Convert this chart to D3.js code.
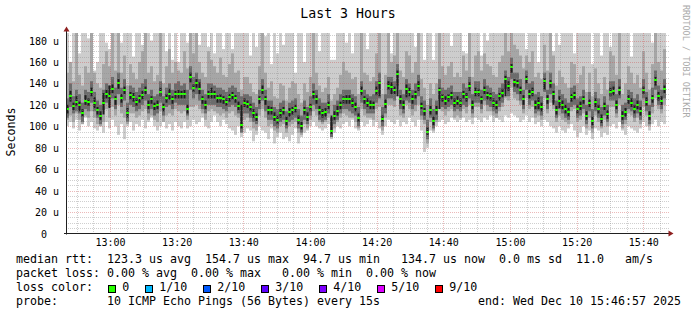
<!DOCTYPE html>
<html><head><meta charset="utf-8">
<script src="https://cdn.jsdelivr.net/npm/d3@7"></script>
<style>
html,body{margin:0;padding:0;background:#fff;}
svg{display:block;}
text{font-family:"DejaVu Sans Mono",monospace;}
</style></head><body>
<svg id="c" width="697" height="315"></svg>
<script>
// ---------- data (microseconds), one value per column, oldest first ----------
const median = [
116,128,119,123,120,112,124,123,132,122,
115,110,122,130,128,135,125,140,126,134,
112,129,127,123,126,129,134,120,125,119,
120,132,118,126,130,125,130,130,130,130,
116,146,136,140,135,125,120,130,130,130,
126,126,125,123,127,129,126,119,101,122,
121,118,112,109,125,134,125,115,115,109,
106,112,115,105,113,115,117,106,100,115,
109,118,130,125,115,112,113,120,96,110,
114,120,125,125,125,122,118,108,133,125,
122,120,120,133,140,107,121,138,137,134,
149,125,120,135,132,125,130,138,119,114,
95,115,105,115,134,127,124,127,129,122,
124,122,130,127,138,120,132,132,125,134,
129,128,122,120,128,131,144,138,155,141,
140,134,125,144,130,132,120,122,118,142,
125,140,130,115,124,120,116,113,127,129,
116,119,125,110,122,105,123,116,107,119,
111,132,133,120,134,110,113,125,122,116,
120,114,134,123,110,126,143,128,124,135];
// outer smoke (lowest / highest ping)
const smokeMax = [
190,160,190,190,168,190,190,182,190,152,
160,190,190,178,172,190,190,190,178,190,
190,190,165,190,190,176,190,190,180,190,
190,190,190,170,190,162,190,160,190,190,
178,190,190,190,176,190,190,174,190,168,
190,190,172,190,190,172,190,190,190,190,
190,166,190,174,190,190,184,190,158,190,
168,190,176,190,190,190,150,190,190,160,
190,190,190,190,170,190,190,190,162,162,
190,190,190,178,190,168,190,190,190,190,
172,190,190,190,190,190,190,190,168,190,
190,190,190,190,190,190,174,190,190,162,
190,190,162,190,190,190,190,190,175,190,
190,190,170,168,190,190,190,190,166,190,
180,190,190,190,190,190,190,190,190,190,
190,190,190,172,190,190,190,160,190,190,
190,190,170,190,176,190,190,190,190,168,
190,190,190,190,190,158,190,190,166,190,
190,174,190,190,190,190,190,190,165,190,
190,190,190,190,190,178,190,190,190,190];
const smokeMin = [
100,104,98,106,96,102,108,100,104,98,
96,100,94,104,98,106,100,92,102,88,
100,104,96,102,100,106,98,104,108,100,
96,100,106,98,102,96,104,100,98,104,
98,100,106,102,104,108,100,98,104,110,
104,100,106,102,98,96,92,100,90,94,
98,96,86,92,100,96,94,88,98,84,
90,94,88,90,86,92,98,84,90,94,
96,100,104,100,98,96,98,102,88,94,
100,98,102,104,100,106,98,96,104,100,
102,106,100,104,98,92,100,106,104,102,
106,100,104,102,108,104,100,106,96,76,
80,96,94,100,104,106,102,104,108,106,
104,106,108,104,106,102,108,106,104,108,
106,110,104,108,106,104,110,108,112,110,
108,104,106,110,104,108,102,104,100,106,
104,100,98,94,100,96,94,98,102,96,
90,94,100,92,96,88,98,96,90,94,
92,100,102,98,104,96,92,100,98,96,
94,98,104,100,96,102,106,100,104,102];
// second smoke band
const band2Hi = [
150,160,142,190,148,138,156,150,190,150,
140,136,158,170,156,190,152,190,150,166,
138,158,150,144,160,170,190,150,156,142,
148,190,140,156,172,150,160,152,150,170,
154,190,168,190,160,150,146,170,162,156,
150,164,148,146,158,168,150,152,134,146,
146,140,132,130,156,190,150,136,142,128,
126,140,138,124,136,142,140,130,122,140,
132,146,190,150,138,132,136,146,124,130,
136,148,160,152,150,144,146,130,190,150,
148,142,146,168,190,130,148,190,160,166,
190,152,146,170,166,150,160,190,144,136,
120,140,130,140,190,156,148,156,160,146,
150,146,166,152,190,146,166,170,152,168,
158,156,148,146,160,166,190,170,190,176,
172,166,154,166,160,170,146,150,144,176,
152,190,166,138,152,146,140,136,160,158,
140,148,156,132,150,128,154,140,130,146,
134,170,166,148,190,130,140,156,150,140,
148,136,170,150,134,158,190,160,152,172];
const band2Lo = [
106,110,104,112,106,102,110,108,114,108,
102,100,104,116,108,118,110,120,112,108,
102,112,112,108,110,114,116,106,110,106,
104,114,104,110,112,110,116,114,112,114,
106,118,118,120,116,112,106,114,116,114,
112,110,112,108,112,114,110,108,96,106,
108,104,98,96,110,116,108,100,102,96,
94,100,102,94,100,102,104,94,92,102,
98,106,114,110,104,102,104,108,90,98,
104,108,112,110,108,108,104,98,116,110,
108,108,106,116,118,96,108,120,120,118,
128,110,108,120,116,110,114,120,106,102,
84,104,96,104,116,114,110,114,116,108,
110,108,116,112,120,108,118,118,112,120,
114,114,110,108,114,118,126,124,136,126,
124,120,112,126,116,118,108,110,106,126,
112,122,116,104,110,106,104,102,114,116,
104,106,112,98,108,94,110,104,98,106,
100,118,118,108,120,98,102,112,110,104,
108,102,118,110,100,112,126,116,112,120];
// third smoke band
const band3Hi = [
126,140,128,134,130,122,134,132,142,132,
124,120,134,140,138,146,136,150,136,144,
122,138,136,132,136,140,144,130,134,128,
130,142,128,136,140,134,140,142,138,140,
134,156,146,150,144,134,130,140,140,138,
136,136,134,132,136,138,136,132,128,130,
130,128,122,118,134,144,134,124,124,118,
116,122,124,114,122,124,126,116,110,124,
118,128,140,134,126,122,122,130,108,120,
124,130,134,134,134,130,128,118,142,134,
130,128,130,142,150,118,130,146,146,142,
158,134,130,144,140,134,140,148,128,124,
106,126,116,124,144,136,134,136,138,132,
132,132,140,136,146,130,142,142,134,144,
138,136,132,130,136,140,152,146,164,150,
150,144,134,152,140,142,130,132,128,150,
134,150,140,124,134,130,126,122,136,138,
126,128,134,120,132,116,132,126,118,128,
120,142,142,130,144,120,122,134,132,126,
130,124,144,132,120,136,152,138,134,144];
const band3Lo = [
108,118,112,114,112,104,116,114,122,114,
108,102,114,122,118,126,116,130,118,124,
104,120,118,114,116,120,124,112,116,110,
112,122,110,118,120,116,122,120,120,120,
110,134,126,130,124,116,112,120,120,120,
118,118,116,114,118,120,118,112,94,112,
112,108,104,102,116,124,114,106,106,100,
98,104,106,98,104,106,108,98,94,106,
102,110,120,116,106,104,106,112,90,102,
106,112,116,116,114,112,110,100,122,116,
112,112,112,122,126,100,112,126,126,124,
138,116,112,124,122,116,120,128,110,106,
88,108,98,106,124,118,116,118,120,114,
116,114,120,118,126,112,122,122,116,124,
120,118,114,112,118,122,134,128,144,132,
130,124,116,134,120,124,112,114,110,132,
116,130,122,108,116,112,108,106,118,120,
108,110,116,102,114,98,114,108,100,110,
104,124,124,112,126,102,106,116,114,108,
112,106,126,114,102,118,134,120,116,126];
// innermost pair of pings around the median
const coreHi = [
120,133,122,128,123,116,129,126,136,127,
118,114,131,134,138,139,128,144,130,137,
117,132,131,126,129,133,137,124,128,122,
124,136,121,130,135,128,133,134,133,134,
120,150,139,144,141,128,124,133,136,133,
129,130,128,126,130,132,129,123,120,126,
124,121,116,112,128,138,128,119,118,113,
110,116,118,109,117,118,120,110,104,118,
113,121,133,129,119,116,117,123,110,114,
119,123,128,129,129,126,122,112,137,128,
126,124,123,137,142,110,125,142,141,137,
152,129,124,139,136,129,133,142,122,117,
99,119,109,119,136,130,128,130,132,126,
128,126,133,131,141,124,136,135,128,137,
132,131,126,124,131,135,147,142,158,144,
143,137,129,147,134,136,124,127,122,145,
129,143,133,119,128,124,120,117,130,132,
120,123,128,114,125,109,126,120,111,122,
115,136,137,124,137,114,117,129,126,120,
124,118,137,127,114,129,146,132,128,138];
const coreLo = [
112,123,115,119,114,109,120,119,128,117,
111,106,111,126,117,131,120,135,122,130,
108,125,123,119,122,125,130,116,121,115,
116,128,114,122,125,121,126,126,126,126,
112,141,132,136,130,121,116,126,126,126,
122,122,121,119,123,125,122,115,98,118,
117,114,108,105,121,130,120,111,111,105,
102,108,111,101,109,111,113,102,97,111,
105,114,126,121,111,108,109,116,93,106,
110,116,121,121,121,118,114,104,129,121,
118,116,116,129,128,104,117,134,130,130,
128,121,116,127,128,121,126,133,116,110,
92,111,101,111,116,123,120,123,125,118,
120,118,126,123,133,116,128,128,121,130,
125,124,118,116,124,127,128,133,150,137,
136,130,120,140,126,128,116,116,114,134,
121,136,120,111,117,116,112,109,123,125,
112,115,121,106,118,101,118,112,103,115,
107,128,129,116,129,106,109,121,118,112,
116,110,130,119,106,122,138,124,120,131];

const xTickLabels = ["13:00","13:20","13:40","14:00","14:20","14:40","15:00","15:20","15:40"];
const yTickValues = [0,20,40,60,80,100,120,140,160,180];
const yTickLabels = ["0","20 u","40 u","60 u","80 u","100 u","120 u","140 u","160 u","180 u"];
const lossLabels = ["0","1/10","2/10","3/10","4/10","5/10","9/10"];
const lossColors = ["#26ff00","#00b8ff","#0059ff","#5e00ff","#7e00ff","#dd00ff","#ff0000"];
const statRtt  = "median rtt:  123.3 us avg  154.7 us max  94.7 us min   134.7 us now  0.0 ms sd  11.0   am/s";
const statLoss = "packet loss: 0.00 % avg  0.00 % max   0.00 % min  0.00 % now";
const probeText = "probe:       10 ICMP Echo Pings (56 Bytes) every 15s";
const endText = "end: Wed Dec 10 15:46:57 2025";
const titleText = "Last 3 Hours";
const yLabel = "Seconds";
const watermark = "RRDTOOL / TOBI OETIKER";

// ---------- layout ----------
const svg = d3.select("#c");
const L = 66, R = 666, T = 33, B = 233.5;
const start = new Date(Date.UTC(2025,11,10,12,46,48));
const end = new Date(Date.UTC(2025,11,10,15,46,48));
const step = 54; // seconds per column
const times = median.map((_, i) => d3.utcSecond.offset(start, i * step));
const x = d3.scaleUtc().domain([start, end]).range([L, R]);
const y = d3.scaleLinear().domain([0, 187]).range([B, T]);

svg.append("defs").append("clipPath").attr("id","plot")
  .append("rect").attr("x",L).attr("y",T).attr("width",R-L).attr("height",B-T);

const g = svg.append("g").attr("clip-path","url(#plot)");
function band(lo, hi, color, inset) {
  g.append("g").selectAll("rect").data(times).join("rect")
    .attr("x", (d,i) => x(d) + inset)
    .attr("width", (d,i) => x(d3.utcSecond.offset(d, step)) - x(d) - inset*2)
    .attr("y", (d,i) => y(Math.max(lo[i], hi[i])))
    .attr("height", (d,i) => Math.abs(y(lo[i]) - y(hi[i])))
    .attr("fill", color);
}
band(smokeMin, smokeMax, "#cdcdcd", 0);
band(band2Lo, band2Hi, "#a6a6a6", 0);
band(band3Lo, band3Hi, "#6c6c6c", 0);
band(coreLo, coreHi, "#1e1e1e", 0.5);
g.append("g").selectAll("rect").data(times).join("rect")
  .attr("x", d => x(d))
  .attr("width", d => x(d3.utcSecond.offset(d, step)) - x(d))
  .attr("y", (d,i) => Math.round(y(median[i])) - 1)
  .attr("height", 2)
  .attr("fill", lossColors[0]);

// ---------- grid (drawn over the data, like rrdtool) ----------
const grid = svg.append("g");
const minorCol = "rgba(140,140,140,0.42)", majorCol = "rgba(205,70,70,0.38)";
const minorX = d3.utcMinute.every(5).range(start, end);
minorX.forEach(t => {
  const major = t.getUTCMinutes() % 20 === 0;
  grid.append("line").attr("x1", Math.round(x(t))+0.5).attr("x2", Math.round(x(t))+0.5)
    .attr("y1", T).attr("y2", B)
    .attr("stroke", major ? majorCol : minorCol)
    .attr("stroke-dasharray","1,1");
});
d3.range(5, 187, 5).forEach(v => {
  const major = v % 20 === 0;
  const yy = Math.round(y(v)) + 0.5;
  grid.append("line").attr("x1", L).attr("x2", R+4).attr("y1", yy).attr("y2", yy)
    .attr("stroke", major ? majorCol : minorCol)
    .attr("stroke-dasharray","1,1");
});

// ---------- axes ----------
const xTicks = xTickLabels.map(s => new Date(Date.UTC(2025,11,10,+s.slice(0,2),+s.slice(3,5))));
const xa = svg.append("g").attr("transform",`translate(0,${B})`)
  .call(d3.axisBottom(x).tickValues(xTicks).tickFormat((d,i) => xTickLabels[i]).tickSize(0).tickPadding(8));
xa.select(".domain").remove();
xa.selectAll("text").attr("font-family","DejaVu Sans Mono").attr("font-size",10).attr("fill","#000")
  .attr("dy",null).attr("y",12);

const ya = svg.append("g").attr("transform",`translate(59,0)`)
  .call(d3.axisLeft(y).tickValues(yTickValues).tickFormat((d,i) => yTickLabels[i]).tickSize(0).tickPadding(0));
ya.select(".domain").remove();
ya.selectAll("text").attr("font-family","DejaVu Sans Mono").attr("font-size",10).attr("fill","#000")
  .attr("dx",(d,i) => yTickLabels[i].includes("u") ? 0 : -12).attr("dy","0.35em");

svg.append("line").attr("x1",L+0.5).attr("x2",L+0.5).attr("y1",B+1).attr("y2",29).attr("stroke","#202020");
svg.append("line").attr("x1",L-2).attr("x2",670).attr("y1",B).attr("y2",B).attr("stroke","#202020");
svg.append("path").attr("d",`M${L+0.5},26.5 L${L-2.5},31.5 L${L+3.5},31.5 Z`).attr("fill","#8e1f1f");
svg.append("path").attr("d",`M673.5,${B} L668.5,${B-3} L668.5,${B+3} Z`).attr("fill","#8e1f1f");

// ---------- titles ----------
svg.append("text").attr("x",348).attr("y",18).attr("text-anchor","middle")
  .attr("font-size",13.2).text(titleText);
svg.append("text").attr("transform","translate(15,132) rotate(-90)").attr("text-anchor","middle")
  .attr("font-size",11.6).text(yLabel);
svg.append("text").attr("transform","translate(683,5) rotate(90)").attr("font-size",8.5)
  .attr("fill","#aaaaaa").text(watermark);

// ---------- legend ----------
const lx = 16, cw = 7.0, fs = 11.63;
function row(txt, yy) {
  svg.append("text").attr("x",lx).attr("y",yy).attr("font-size",fs)
    .attr("xml:space","preserve").style("white-space","pre").text(txt);
}
row(statRtt, 263);
row(statLoss, 277);
row("loss color:", 291);
row(probeText, 305);
svg.append("text").attr("x",681).attr("y",305).attr("text-anchor","end").attr("font-size",fs).text(endText);
let cur = 108.3;
lossLabels.forEach((lab, i) => {
  svg.append("rect").attr("x",Math.round(cur)+0.5).attr("y",285.5).attr("width",7).attr("height",7)
    .attr("fill",lossColors[i]).attr("stroke","#000");
  svg.append("text").attr("x",cur+14).attr("y",291).attr("font-size",fs).text(lab);
  cur = cur + 14 + lab.length*cw + 16;
});
</script>
</body></html>
